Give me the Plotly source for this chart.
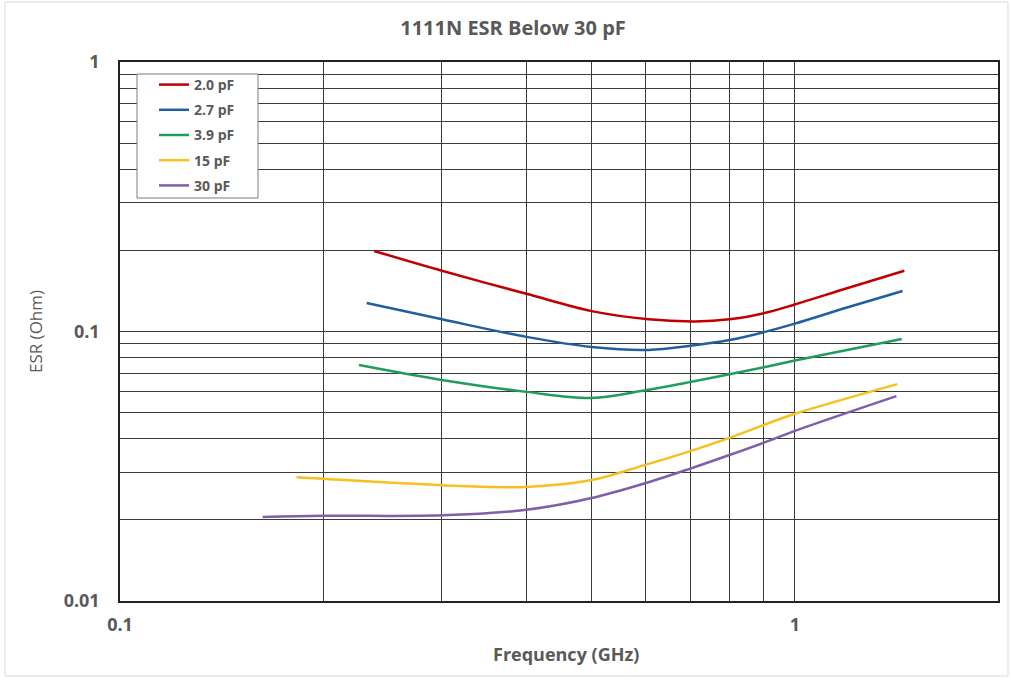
import plotly.graph_objects as go

names = ["2.0 pF", "2.7 pF", "3.9 pF", "15 pF", "30 pF"]
colors = ["#C00000", "#1F5FA0", "#1E9E5A", "#F5C020", "#7E5FA8"]

x_20 = [0.238, 0.30, 0.40, 0.50, 0.607, 0.712, 0.80, 0.90, 1.00, 1.198, 1.453]
y_20 = [0.199, 0.168, 0.138, 0.119, 0.111, 0.109, 0.111, 0.117, 0.126, 0.145, 0.168]

x_27 = [0.232, 0.30, 0.40, 0.50, 0.607, 0.70, 0.80, 0.90, 1.00, 1.198, 1.444]
y_27 = [0.1276, 0.111, 0.0955, 0.0876, 0.0854, 0.0885, 0.093, 0.0995, 0.1070, 0.123, 0.1413]

x_39 = [0.226, 0.30, 0.40, 0.50, 0.60, 0.70, 0.80, 0.90, 1.00, 1.44]
y_39 = [0.0751, 0.0661, 0.0597, 0.0567, 0.0605, 0.065, 0.0694, 0.0737, 0.0780, 0.0938]

x_15 = [0.1826, 0.20, 0.30, 0.40, 0.50, 0.60, 0.70, 0.80, 0.90, 1.00, 1.419]
y_15 = [0.0288, 0.0284, 0.0269, 0.0265, 0.0281, 0.032, 0.036, 0.0403, 0.045, 0.0495, 0.0638]

x_30 = [0.1627, 0.20, 0.30, 0.40, 0.50, 0.607, 0.70, 0.80, 0.90, 1.00, 1.414]
y_30 = [0.0205, 0.0207, 0.0208, 0.0218, 0.0241, 0.0276, 0.0310, 0.0348, 0.0387, 0.0428, 0.0576]

xs = [x_20, x_27, x_39, x_15, x_30]
ys = [y_20, y_27, y_39, y_15, y_30]

x_grid = [0.1, 0.2, 0.3, 0.4, 0.5, 0.6, 0.7, 0.8, 0.9, 1.0]
x_labels = ["0.1", "", "", "", "", "", "", "", "", "1"]
y_grid = [0.01, 0.02, 0.03, 0.04, 0.05, 0.06, 0.07, 0.08, 0.09,
          0.1, 0.2, 0.3, 0.4, 0.5, 0.6, 0.7, 0.8, 0.9, 1.0]
y_labels = ["0.01"] + [""] * 8 + ["0.1"] + [""] * 8 + ["1"]

FONT = "Open Sans"
TXT = "#595959"

# plot area in pixels: left 120, right 998, top 62, bottom 601
def px_x(p):
    return (p - 120) / 878

def px_y(p):
    return (601 - p) / 539

fig = go.Figure()
for i in range(5):
    fig.add_trace(go.Scatter(
        x=xs[i], y=ys[i], mode="lines", name=names[i],
        line=dict(color=colors[i], width=2.5, shape="spline", smoothing=1.0),
        legendgroup=f"g{i}",
    ))

fig.update_layout(
    width=1011, height=681,
    margin=dict(l=120, r=13, t=62, b=80, autoexpand=False),
    paper_bgcolor="white", plot_bgcolor="white",
    font=dict(family=FONT, color=TXT, size=13),
    title=dict(text="<b>1111N ESR Below 30 pF</b>", x=513 / 1011, xanchor="center",
               y=1 - 28 / 681, yanchor="middle",
               font=dict(family=FONT, size=20, color=TXT)),
    showlegend=True,
    legend=dict(x=px_x(154), y=px_y(69), xanchor="left", yanchor="top",
                bgcolor="rgba(0,0,0,0)", borderwidth=0,
                font=dict(family=FONT, size=14, color=TXT, weight="bold"),
                traceorder="grouped", tracegroupgap=4, itemwidth=30),
    xaxis=dict(type="log", range=[-1, 0.301], tickvals=x_grid, ticktext=x_labels,
               automargin=False,
               showgrid=True, gridcolor="#3a3a3a", gridwidth=1,
               showline=True, linecolor="#222", linewidth=1.5, mirror=True,
               ticks="outside", ticklen=7, tickcolor="rgba(0,0,0,0)",
               tickfont=dict(family=FONT, size=18, color=TXT, weight="bold"),
               zeroline=False),
    yaxis=dict(type="log", range=[-2, 0], tickvals=y_grid, ticktext=y_labels,
               automargin=False,
               showgrid=True, gridcolor="#3a3a3a", gridwidth=1,
               showline=True, linecolor="#222", linewidth=1.5, mirror=True,
               ticks="outside", ticklen=15, tickcolor="rgba(0,0,0,0)",
               tickfont=dict(family=FONT, size=18, color=TXT, weight="bold"),
               title=dict(text="ESR (Ohm)", standoff=17,
                          font=dict(family=FONT, size=17, color=TXT)),
               zeroline=False),
    annotations=[dict(text="<b>Frequency (GHz)</b>", xref="paper", yref="paper",
                      x=px_x(566), y=px_y(654), xanchor="center", yanchor="middle",
                      showarrow=False, font=dict(family=FONT, size=18, color=TXT))],
    shapes=[
        dict(type="rect", xref="paper", yref="paper",
             x0=px_x(5), x1=px_x(1008), y0=px_y(676), y1=px_y(2),
             line=dict(color="#d9d9d9", width=1)),
        dict(type="rect", xref="paper", yref="paper", layer="above",
             x0=px_x(137), x1=px_x(258), y0=px_y(198), y1=px_y(74),
             fillcolor="white", line=dict(color="#7f7f7f", width=1)),
    ],
)

fig.write_html("out.html", config={"displayModeBar": False},
               post_script="document.body.style.margin='0px';")
